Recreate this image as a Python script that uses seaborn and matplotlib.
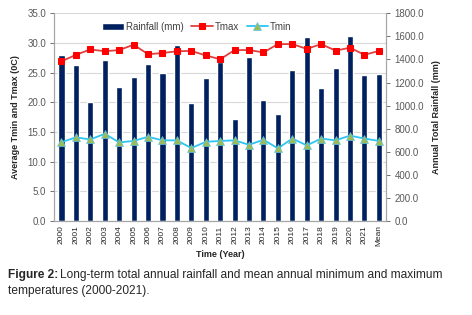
import numpy as np
import pandas as pd
import matplotlib
matplotlib.use('Agg')
import matplotlib.pyplot as plt
import seaborn as sns

years = ['2000', '2001', '2002', '2003', '2004', '2005', '2006', '2007', '2008', '2009', '2010',
         '2011', '2012', '2013', '2014', '2015', '2016', '2017', '2018', '2019', '2020', '2021', 'Mean']
rainfall = [1440, 1348, 1035, 1391, 1157, 1252, 1363, 1281, 1524, 1026, 1237,
            1378, 880, 1423, 1050, 926, 1308, 1591, 1150, 1323, 1600, 1262, 1276]
tmax = [26.9, 28.0, 28.9, 28.6, 28.8, 29.7, 28.1, 28.3, 28.6, 28.65, 27.9,
        27.25, 28.8, 28.8, 28.4, 29.8, 29.8, 29.0, 29.8, 28.7, 29.2, 28.0, 28.65]
tmin = [13.3, 14.1, 13.75, 14.7, 13.25, 13.5, 14.2, 13.6, 13.6, 12.3, 13.35,
        13.5, 13.6, 12.85, 13.7, 12.25, 13.9, 12.75, 13.9, 13.6, 14.4, 13.9, 13.5]
temp_ticks = [0, 5, 10, 15, 20, 25, 30, 35]
rain_ticks = [0, 200, 400, 600, 800, 1000, 1200, 1400, 1600, 1800]

df = pd.DataFrame({'year': years, 'rain': rainfall, 'tmax': tmax, 'tmin': tmin})

sns.set_style('white')
plt.rcParams['font.family'] = ['Liberation Sans', 'DejaVu Sans']

fig = plt.figure(figsize=(4.72, 3.15), dpi=100)
ax_bar = fig.add_axes([0.115, 0.298, 0.703, 0.66])
ax_t = ax_bar.twinx()

# gridlines matching the temperature ticks, behind the bars
for t in temp_ticks:
    ax_bar.axhline(t * rain_ticks[-1] / temp_ticks[-1], color='#d9d9d9', lw=0.8, zorder=0)

sns.barplot(data=df, x='year', y='rain', ax=ax_bar, color='#002060', saturation=1,
            width=0.42, zorder=2)
ax_bar.set_ylim(0, 1800)
ax_bar.set_yticks(rain_ticks)
ax_bar.set_yticklabels([f'{v:.1f}' for v in rain_ticks])
ax_bar.set_xlim(-0.5, len(years) - 0.5)

sns.lineplot(data=df, x='year', y='tmax', ax=ax_t, sort=False, color='#e0403f', lw=1.3,
             marker='s', markersize=5, markerfacecolor='#ff0000', markeredgecolor='#ff0000',
             label='Tmax')
sns.lineplot(data=df, x='year', y='tmin', ax=ax_t, sort=False, color='#2ec4f2', lw=1.3,
             marker='^', markersize=5.5, markerfacecolor='#9bbb59', markeredgecolor='#5fc6e6',
             markeredgewidth=0.5, label='Tmin')
ax_t.set_ylim(0, 35)
ax_t.set_yticks(temp_ticks)
ax_t.set_yticklabels([f'{v:.1f}' for v in temp_ticks])

# rainfall on the right, temperature on the left
ax_bar.yaxis.tick_right()
ax_bar.yaxis.set_label_position('right')
ax_t.yaxis.tick_left()
ax_t.yaxis.set_label_position('left')

ax_bar.set_ylabel('Annual Total Rainfall (mm)', fontsize=6.5, fontweight='bold', labelpad=6)
ax_bar.set_xlabel('Time (Year)', fontsize=6.5, fontweight='bold', labelpad=3)
ax_t.set_ylabel('Average Tmin and Tmax (0C)', fontsize=6.5, fontweight='bold', labelpad=5)
ax_t.set_xlabel('')

ax_bar.tick_params(axis='x', labelsize=6, rotation=90, length=0, pad=3)
ax_bar.tick_params(axis='y', labelsize=7, colors='#595959', length=3, width=0.6,
                   direction='out', right=True, left=False, labelright=True, labelleft=False, pad=3)
ax_t.tick_params(axis='y', labelsize=7, colors='#595959', length=3, width=0.6,
                 direction='out', left=True, right=False, labelleft=True, labelright=False, pad=3)

for a in (ax_bar, ax_t):
    for side in ('left', 'right', 'bottom'):
        a.spines[side].set_color('#a6a6a6')
        a.spines[side].set_linewidth(0.8)
    a.spines['top'].set_visible(False)

handles = [ax_bar.containers[0]] + ax_t.get_lines()[:2]
labels = ['Rainfall (mm)', 'Tmax', 'Tmin']
ax_t.legend(handles, labels, loc='center', bbox_to_anchor=(0.43, 0.935), ncol=3,
            frameon=False, fontsize=7, handlelength=2.2, columnspacing=0.8,
            handletextpad=0.2, labelcolor='#404040')
leg = ax_bar.get_legend()
if leg is not None:
    leg.remove()

# caption: bold prefix followed by regular text
cap_size = 8.6
t1 = fig.text(0.017, 0.127, 'Figure 2:', fontsize=cap_size, fontweight='bold', va='center')
fig.canvas.draw()
bb = t1.get_window_extent().transformed(fig.transFigure.inverted())
fig.text(bb.x1 + 0.004, 0.127, 'Long-term total annual rainfall and mean annual minimum and maximum',
         fontsize=cap_size, va='center')
fig.text(0.017, 0.075, 'temperatures (2000-2021).', fontsize=cap_size, va='center')

fig.savefig('out.png', dpi=100)
